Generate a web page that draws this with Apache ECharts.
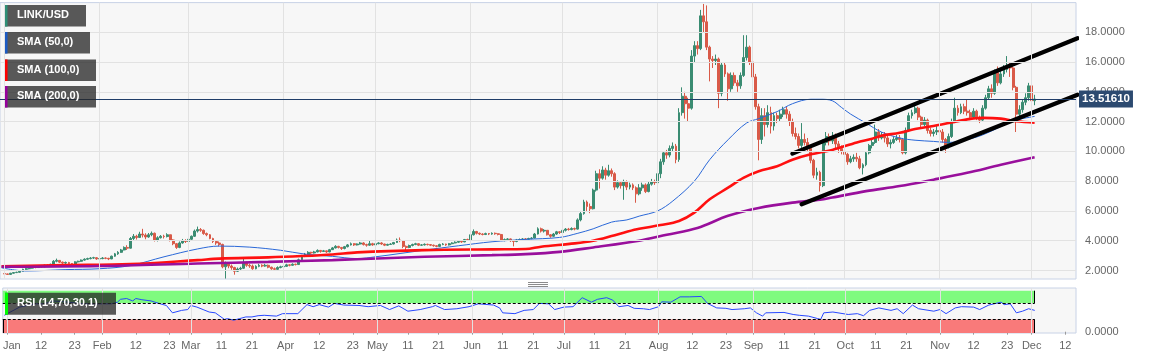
<!DOCTYPE html>
<html><head><meta charset="utf-8">
<script src="https://cdn.jsdelivr.net/npm/echarts@6/dist/echarts.min.js"></script>
<style>html,body{margin:0;padding:0;background:#fff}#c{width:1153px;height:359px}</style>
</head><body><div id="c"></div>
<script>
// ---------------- DATA ----------------
const START_DATE = '2019-12-31';   // first category (empty)
const END_DATE = '2020-12-15';     // last category (empty, axis padding)
const FIRST_DAY = '2020-01-01';
const FIRST_OPEN = 1.79;           // open of Jan 1; later opens = previous close
const closes = [
 // Jan
 1.77,1.74,1.82,1.86,1.88,1.95,2.08,2.12,2.16,2.24,2.20,2.27,2.25,2.36,2.33,2.42,2.62,2.68,2.56,2.50,2.54,2.47,2.42,2.58,2.62,2.70,2.76,2.80,2.84,2.86,2.78,
 // Feb
 2.80,2.84,2.82,2.78,2.96,3.12,3.22,3.38,3.55,3.50,4.15,4.30,4.22,4.45,4.38,4.25,4.40,4.50,4.05,4.20,4.30,4.28,4.40,4.05,3.80,3.55,3.85,4.00,3.95,
 // Mar
 4.10,4.30,4.65,4.75,4.70,4.48,4.40,4.15,3.95,3.85,3.75,2.25,2.45,2.30,2.20,1.95,2.10,2.15,2.50,2.35,2.30,2.12,2.28,2.35,2.30,2.35,2.22,2.12,2.08,2.20,2.25,
 // Apr
 2.28,2.38,2.35,2.42,2.40,2.72,2.95,3.10,3.22,3.18,3.25,3.35,3.28,3.32,3.25,3.40,3.52,3.62,3.55,3.48,3.60,3.72,3.80,3.72,3.78,3.85,3.74,3.70,3.80,3.72,
 // May
 3.80,3.85,3.78,3.70,3.75,3.78,3.88,4.05,4.00,3.62,3.55,3.68,3.75,3.80,3.70,3.72,3.76,3.74,3.70,3.66,3.62,3.75,3.78,3.72,3.80,3.85,3.90,3.96,3.92,4.08,4.05,
 // Jun
 4.40,4.62,4.50,4.45,4.42,4.48,4.45,4.50,4.47,4.42,4.02,4.08,4.12,4.00,3.95,4.05,4.08,4.12,4.10,4.15,4.18,4.45,4.80,4.65,4.70,4.40,4.30,4.45,4.60,4.55,
 // Jul
 4.70,4.78,4.75,4.82,4.78,5.40,5.82,6.60,6.30,6.15,7.40,8.50,8.20,8.75,8.40,8.70,8.50,7.60,7.90,7.70,7.95,7.60,7.75,7.55,7.15,7.55,7.75,7.30,7.80,7.95,7.90,
 // Aug
 8.50,9.30,9.90,9.75,10.20,10.35,9.45,12.60,13.70,13.20,12.90,16.40,17.10,16.90,19.10,18.70,17.00,16.20,16.10,16.20,13.90,15.80,15.20,14.20,15.10,14.60,14.40,15.10,16.30,17.00,16.00,
 // Sep
 15.00,13.00,10.80,12.40,11.80,12.60,11.70,12.40,12.20,12.50,12.80,12.50,12.00,11.20,11.00,10.40,10.80,10.60,10.20,9.40,8.40,8.60,7.70,10.60,11.00,10.70,11.00,10.50,10.20,10.00,
 // Oct
 9.80,9.30,9.50,9.60,9.50,8.90,9.10,9.90,10.40,10.60,11.30,10.90,11.10,10.90,10.50,10.60,10.80,10.90,10.80,9.90,11.40,12.40,12.60,12.90,12.30,11.80,12.10,11.40,11.20,11.30,11.40,
 // Nov
 11.30,10.80,10.40,11.00,12.00,12.90,12.60,13.00,12.70,12.60,12.30,12.70,12.30,12.10,12.90,13.60,14.20,13.90,15.30,14.60,15.20,15.50,15.80,15.60,14.30,12.50,12.80,13.30,13.60,14.40,
 // Dec
 13.40,13.5161
];
const highs = [
 1.81,1.79,1.84,1.89,1.92,1.98,2.12,2.18,2.21,2.30,2.28,2.31,2.32,2.40,2.42,2.46,2.70,2.80,2.70,2.60,2.60,2.58,2.50,2.62,2.66,2.74,2.82,2.86,2.90,2.92,2.90,
 2.86,2.90,2.88,2.85,3.00,3.18,3.30,3.45,3.62,3.70,4.25,4.45,4.40,4.60,4.80,4.50,4.52,4.62,4.55,4.30,4.38,4.40,4.50,4.42,4.10,3.85,3.95,4.12,4.10,
 4.15,4.35,4.75,4.95,4.85,4.75,4.55,4.45,4.20,4.02,3.95,3.80,2.60,2.50,2.40,2.25,2.20,2.25,2.90,2.60,2.45,2.40,2.35,2.45,2.42,2.45,2.40,2.26,2.20,2.28,2.32,
 2.35,2.45,2.42,2.48,2.46,2.80,3.05,3.18,3.30,3.26,3.32,3.42,3.38,3.38,3.34,3.45,3.58,3.70,3.66,3.58,3.65,3.78,3.88,3.84,3.82,3.92,3.90,3.80,3.98,3.86,
 3.86,3.90,3.90,3.80,3.80,3.84,3.92,4.15,4.22,4.02,3.68,3.74,3.80,3.86,3.82,3.78,3.82,3.80,3.78,3.74,3.70,3.80,3.84,3.80,3.85,3.90,3.96,4.02,4.00,4.12,4.14,
 4.45,4.76,4.66,4.55,4.50,4.54,4.52,4.56,4.55,4.50,4.46,4.15,4.18,4.15,4.05,4.12,4.15,4.18,4.18,4.20,4.24,4.52,4.90,4.88,4.78,4.72,4.45,4.52,4.66,4.65,
 4.78,4.85,4.86,4.90,4.88,5.50,6.00,6.75,6.70,6.50,7.50,8.70,8.80,9.00,8.90,9.10,8.85,8.60,8.05,8.00,8.10,8.05,7.90,7.85,7.65,7.80,7.90,7.85,7.95,8.15,8.10,
 8.80,9.50,10.00,10.10,10.40,10.60,10.50,12.90,14.30,14.00,13.60,16.80,17.40,17.40,19.50,19.90,19.80,17.10,16.40,16.50,16.30,16.00,16.00,15.30,15.30,15.30,14.80,15.30,17.80,17.80,17.10,
 16.30,15.20,13.20,12.90,12.90,13.10,13.00,12.60,12.60,12.80,13.00,13.00,12.70,12.20,11.60,11.20,11.90,11.20,10.90,10.40,9.50,8.90,8.70,10.80,11.30,11.20,11.30,11.20,10.70,10.40,
 10.30,9.90,9.70,9.80,9.90,9.70,9.20,10.00,10.50,10.80,11.80,11.50,11.30,11.30,11.10,10.80,11.00,11.10,11.10,10.90,11.60,12.60,12.80,13.20,13.00,12.40,12.30,12.20,11.60,11.50,11.70,
 11.60,11.50,10.90,11.20,12.20,13.60,13.10,13.20,13.20,13.50,12.80,12.90,12.80,12.40,13.10,13.80,14.40,14.50,15.50,15.70,15.40,15.80,16.40,16.00,15.70,14.40,13.10,13.50,13.90,14.60,
 15.00,13.80
];
const lows = [
 1.74,1.72,1.73,1.80,1.83,1.86,1.94,2.04,2.08,2.12,2.15,2.18,2.20,2.22,2.28,2.30,2.40,2.55,2.50,2.40,2.44,2.42,2.36,2.40,2.54,2.58,2.66,2.72,2.75,2.78,2.72,
 2.72,2.76,2.76,2.70,2.76,2.92,3.05,3.18,3.35,3.38,3.48,4.05,4.08,4.18,4.22,4.10,4.20,4.30,3.95,3.95,4.15,4.15,4.22,3.95,3.70,3.45,3.50,3.80,3.85,
 3.92,4.05,4.25,4.55,4.60,4.40,4.30,4.10,3.85,3.72,3.62,2.15,1.46,2.15,2.05,1.72,1.90,2.02,2.10,2.25,2.18,2.05,2.08,2.22,2.22,2.25,2.15,2.05,2.00,2.05,2.15,
 2.18,2.25,2.28,2.32,2.34,2.38,2.68,2.90,3.05,3.10,3.14,3.22,3.20,3.24,3.18,3.22,3.38,3.48,3.48,3.38,3.42,3.55,3.68,3.65,3.68,3.74,3.68,3.60,3.66,3.66,
 3.68,3.76,3.72,3.64,3.66,3.72,3.75,3.86,3.90,3.50,3.37,3.50,3.62,3.70,3.64,3.66,3.68,3.68,3.64,3.60,3.56,3.60,3.70,3.66,3.68,3.76,3.82,3.86,3.86,3.90,3.98,
 4.00,4.35,4.42,4.38,4.36,4.38,4.38,4.40,4.40,4.36,3.98,3.96,4.02,3.92,3.62,3.90,4.00,4.04,4.04,4.06,4.10,4.15,4.42,4.55,4.55,4.35,4.20,4.26,4.40,4.45,
 4.50,4.62,4.68,4.70,4.70,4.75,5.30,5.75,6.00,5.85,6.10,7.30,7.50,8.10,8.10,8.30,8.30,7.40,7.50,7.50,6.75,7.40,7.45,7.40,6.55,7.05,7.35,7.20,7.25,7.70,7.75,
 7.80,8.20,9.10,9.50,9.60,10.00,9.20,9.30,12.40,12.20,12.00,12.80,16.00,16.50,16.80,18.00,16.80,14.70,15.60,15.80,12.90,13.70,15.00,13.40,14.00,14.40,14.00,14.20,15.00,16.10,15.80,
 14.70,12.80,9.40,10.50,11.00,11.60,11.20,11.40,11.90,12.00,12.30,12.20,11.70,11.00,10.80,10.20,10.20,10.40,10.00,9.20,8.20,8.10,7.30,7.60,10.40,10.40,10.50,10.20,9.90,9.80,
 9.60,9.10,9.20,9.30,9.30,8.80,8.45,9.00,9.80,10.20,10.50,10.70,10.80,10.60,10.30,10.20,10.50,10.70,10.60,9.80,9.80,11.30,12.20,12.50,12.10,11.60,11.70,11.20,11.00,11.00,11.10,
 11.10,10.60,9.90,10.20,10.90,11.90,12.40,12.50,12.50,12.40,12.10,12.20,12.10,11.90,12.00,12.80,13.50,13.60,13.80,14.40,14.50,15.00,15.30,15.00,14.10,11.30,12.20,12.60,13.10,13.40,
 13.20,13.10
];
const sma50 = [['2019-12-31',2.18],['2020-01-08',1.97],['2020-01-21',2.06],['2020-02-01',2.12],['2020-02-11',2.33],['2020-02-22',2.92],['2020-03-04',3.45],['2020-03-11',3.64],['2020-03-21',3.57],['2020-03-31',3.36],['2020-04-08',3.10],['2020-04-17',2.95],['2020-04-25',2.80],['2020-05-01',2.92],['2020-05-17',3.37],['2020-05-28',3.66],['2020-06-08',3.93],['2020-06-19',4.09],['2020-06-30',4.22],['2020-07-06',4.50],['2020-07-11',4.80],['2020-07-17',5.25],['2020-07-22',5.40],['2020-07-26',5.65],['2020-08-01',6.00],['2020-08-06',6.67],['2020-08-13',8.00],['2020-08-18',9.44],['2020-08-24',10.78],['2020-08-30',11.90],['2020-09-03',12.20],['2020-09-09',12.67],['2020-09-14',13.20],['2020-09-20',13.50],['2020-09-23',13.50],['2020-09-27',13.40],['2020-09-30',12.95],['2020-10-03',12.50],['2020-10-08',11.90],['2020-10-13',11.30],['2020-10-19',10.90],['2020-10-24',10.75],['2020-10-30',10.67],['2020-11-04',10.60],['2020-11-10',10.80],['2020-11-15',11.10],['2020-11-21',11.67],['2020-11-25',12.05],['2020-12-02',12.35]];
const sma100 = [['2019-12-31',2.29],['2020-01-21',2.36],['2020-02-11',2.43],['2020-03-04',2.70],['2020-03-11',2.80],['2020-03-27',2.88],['2020-04-07',2.97],['2020-04-17',3.08],['2020-04-25',3.22],['2020-05-17',3.37],['2020-06-08',3.42],['2020-06-19',3.44],['2020-06-24',3.60],['2020-07-05',3.82],['2020-07-11',4.00],['2020-07-17',4.31],['2020-07-22',4.60],['2020-07-26',4.80],['2020-08-02',5.05],['2020-08-08',5.33],['2020-08-13',5.89],['2020-08-18',6.78],['2020-08-24',7.56],['2020-08-29',8.22],['2020-09-03',8.67],['2020-09-09',9.00],['2020-09-14',9.44],['2020-09-20',9.80],['2020-09-27',10.10],['2020-10-05',10.60],['2020-10-10',10.85],['2020-10-13',11.05],['2020-10-19',11.25],['2020-10-24',11.50],['2020-10-30',11.70],['2020-11-04',11.90],['2020-11-10',12.15],['2020-11-15',12.25],['2020-11-21',12.20],['2020-11-26',12.02],['2020-12-02',11.93]];
const sma200 = [['2019-12-31',2.25],['2020-02-01',2.30],['2020-03-04',2.47],['2020-03-27',2.58],['2020-04-17',2.70],['2020-04-25',2.76],['2020-05-17',2.92],['2020-06-08',3.03],['2020-06-19',3.10],['2020-06-30',3.25],['2020-07-11',3.55],['2020-07-26',4.00],['2020-08-04',4.40],['2020-08-14',4.85],['2020-08-24',5.67],['2020-09-03',6.20],['2020-09-14',6.56],['2020-09-23',6.75],['2020-09-27',6.90],['2020-10-08',7.33],['2020-10-19',7.67],['2020-10-30',8.10],['2020-11-10',8.56],['2020-11-21',9.10],['2020-12-02',9.60]];
const channelUpper = [['2020-09-14',9.85],['2020-12-16',17.6]];
const channelLower = [['2020-09-17',6.45],['2020-12-16',13.8]];
const priceNow = 13.5161;
const rsi = [['2019-12-31',40],['2020-01-01',44],['2020-01-05',60],['2020-01-10',68],['2020-01-13',68],['2020-01-16',75],['2020-01-21',72],['2020-01-26',68],['2020-02-01',68],['2020-02-04',68],['2020-02-06',72],['2020-02-07',79],['2020-02-09',81],['2020-02-11',75],['2020-02-12',81],['2020-02-14',78],['2020-02-17',75],['2020-02-20',68],['2020-02-22',64],['2020-02-24',46],['2020-02-27',52],['2020-02-29',54],['2020-03-01',64],['2020-03-03',60],['2020-03-05',54],['2020-03-07',48],['2020-03-09',46],['2020-03-12',30],['2020-03-13',32],['2020-03-15',28],['2020-03-17',32],['2020-03-19',36],['2020-03-21',36],['2020-03-23',39],['2020-03-25',40],['2020-03-29',38],['2020-03-31',44],['2020-04-05',44],['2020-04-08',66],['2020-04-10',61],['2020-04-12',66],['2020-04-15',60],['2020-04-17',69],['2020-04-20',65],['2020-04-25',64],['2020-04-28',61],['2020-05-02',64],['2020-05-05',54],['2020-05-08',63],['2020-05-11',50],['2020-05-15',54],['2020-05-19',61],['2020-05-20',64],['2020-05-23',54],['2020-05-27',56],['2020-05-31',61],['2020-06-03',68],['2020-06-08',65],['2020-06-10',58],['2020-06-11',46],['2020-06-15',44],['2020-06-18',52],['2020-06-21',54],['2020-06-23',69],['2020-06-26',68],['2020-06-28',54],['2020-07-01',60],['2020-07-04',61],['2020-07-07',83],['2020-07-10',72],['2020-07-12',79],['2020-07-15',83],['2020-07-17',77],['2020-07-19',61],['2020-07-22',64],['2020-07-24',57],['2020-07-27',56],['2020-07-29',54],['2020-08-01',61],['2020-08-02',73],['2020-08-05',72],['2020-08-08',85],['2020-08-11',85],['2020-08-15',86],['2020-08-17',69],['2020-08-20',58],['2020-08-23',57],['2020-08-25',54],['2020-08-29',56],['2020-08-31',58],['2020-09-02',46],['2020-09-04',38],['2020-09-05',46],['2020-09-11',47],['2020-09-14',42],['2020-09-16',40],['2020-09-19',38],['2020-09-22',32],['2020-09-23',30],['2020-09-24',46],['2020-09-27',48],['2020-10-02',42],['2020-10-05',44],['2020-10-07',39],['2020-10-09',52],['2020-10-12',58],['2020-10-16',52],['2020-10-18',56],['2020-10-20',44],['2020-10-23',65],['2020-10-25',56],['2020-10-30',50],['2020-11-01',54],['2020-11-03',44],['2020-11-06',58],['2020-11-08',61],['2020-11-12',60],['2020-11-14',54],['2020-11-17',65],['2020-11-21',72],['2020-11-22',66],['2020-11-24',68],['2020-11-26',46],['2020-11-28',50],['2020-11-30',56],['2020-12-02',52]];
const rsiUpper = 70, rsiLower = 30, rsiTop = 100;
const yTicks = [2,4,6,8,10,12,14,16,18];
const xTickDates = ['2020-01-01','2020-01-12','2020-01-23','2020-02-01','2020-02-12','2020-02-23','2020-03-01','2020-03-11','2020-03-21','2020-04-01','2020-04-12','2020-04-23','2020-05-01','2020-05-11','2020-05-21','2020-06-01','2020-06-11','2020-06-21','2020-07-01','2020-07-11','2020-07-21','2020-08-01','2020-08-12','2020-08-23','2020-09-01','2020-09-11','2020-09-21','2020-10-01','2020-10-11','2020-10-21','2020-11-01','2020-11-12','2020-11-23','2020-12-01','2020-12-12'];
const monthStarts = ['2020-01-01','2020-02-01','2020-03-01','2020-04-01','2020-05-01','2020-06-01','2020-07-01','2020-08-01','2020-09-01','2020-10-01','2020-11-01','2020-12-01'];
const MONTHS = ['Jan','Feb','Mar','Apr','May','Jun','Jul','Aug','Sep','Oct','Nov','Dec'];
const legendLabels = ['LINK/USD','SMA (50,0)','SMA (100,0)','SMA (200,0)'];
const rsiLabel = 'RSI (14,70,30,1)';

// ---------------- BUILD ----------------
const DAY = 864e5;
const t0 = Date.parse(START_DATE + 'T00:00:00Z');
const idx = d => Math.round((Date.parse(d + 'T00:00:00Z') - t0) / DAY);
const N = idx(END_DATE) + 1;
const fmtDate = t => new Date(t).toISOString().slice(0, 10);
const cats = [];
for (let i = 0; i < N; i++) cats.push(fmtDate(t0 + i * DAY));
const firstIdx = idx(FIRST_DAY);
const candles = cats.map(() => '-');
closes.forEach((c, k) => {
  const o = k === 0 ? FIRST_OPEN : closes[k - 1];
  candles[firstIdx + k] = [o, c, lows[k], highs[k]];
});
const lastIdx = firstIdx + closes.length - 1;
const toPts = arr => arr.map(([d, v]) => [idx(d), v]);
const tickSet = new Set(xTickDates.map(idx));
const FONT = 'Arial, "Liberation Sans", Helvetica, sans-serif';
const RSI_MIN = -3.2, RSI_MAX = 106.6;
const Y_MIN = 1.43, Y_MAX = 19.99;

const chart = echarts.init(document.getElementById('c'));
const lineS = (name, pts, color, width, z) => ({
  name, type: 'line', xAxisIndex: 1, yAxisIndex: 0, data: toPts(pts), showSymbol: false, symbol: 'none',
  smooth: 0.35, lineStyle: { color, width }, z, silent: true
});
const gridLineColor = '#e2e2e2';
const vLines = monthStarts.map(d => ({ xAxis: idx(d) }));
const hLines = yTicks.map(v => ({ yAxis: v }));

const legendColors = ['#2f8f76', '#1c5bc4', '#ff0000', '#96009c'];
const legendTops = [5, 32, 59.5, 86];
const legendWidths = [81, 85, 91, 91];
const graphic = [];
legendLabels.forEach((lab, i) => {
  graphic.push({ type: 'rect', left: 5, top: legendTops[i], shape: { width: legendWidths[i], height: 21.5 }, style: { fill: 'rgba(38,38,38,0.76)' }, z: 100 });
  graphic.push({ type: 'rect', left: 5, top: legendTops[i], shape: { width: 2.5, height: 21.5 }, style: { fill: legendColors[i] }, z: 101 });
  graphic.push({ type: 'text', left: 17, top: legendTops[i] + 4.5, style: { text: lab, fill: '#ffffff', font: 'bold 11px ' + FONT }, z: 102 });
});
graphic.push({ type: 'rect', left: 5, top: 292.7, shape: { width: 111, height: 22 }, style: { fill: 'rgba(38,38,38,0.76)' }, z: 100 });
graphic.push({ type: 'rect', left: 5, top: 292.7, shape: { width: 3, height: 22 }, style: { fill: '#00ff00' }, z: 101 });
graphic.push({ type: 'text', left: 17, top: 297.5, style: { text: rsiLabel, fill: '#ffffff', font: 'bold 11px ' + FONT }, z: 102 });
[282.5, 284.5, 286.5].forEach(y => graphic.push({ type: 'line', shape: { x1: 528, y1: y, x2: 548, y2: y }, style: { stroke: '#8c8c8c', lineWidth: 1 }, z: 50 }));

const option = {
  animation: false,
  backgroundColor: '#ffffff',
  textStyle: { fontFamily: FONT },
  grid: [
    { left: 0, right: 77, top: 2.6, height: 276.4, show: true, backgroundColor: '#f7f7f7', borderColor: '#c8d2e6', borderWidth: 1 },
    { left: 0, right: 77, top: 288, height: 45, show: true, backgroundColor: '#f7f7f7', borderColor: '#c8d2e6', borderWidth: 1 }
  ],
  xAxis: [
    { type: 'category', gridIndex: 0, data: cats, boundaryGap: true, axisLine: { show: false }, axisTick: { show: false }, axisLabel: { show: false }, splitLine: { show: false } },
    { type: 'value', gridIndex: 0, min: -0.5, max: N - 0.5, show: false },
    { type: 'category', gridIndex: 1, data: cats, boundaryGap: true, axisLine: { show: false },
      axisTick: { show: true, alignWithLabel: true, interval: i => tickSet.has(i), length: 3, lineStyle: { color: '#9a9a9a' } },
      axisLabel: { interval: i => tickSet.has(i), color: '#666', fontSize: 11, margin: 7, fontFamily: FONT,
        formatter: v => { const m = +v.slice(5, 7), d = +v.slice(8, 10); const s = d === 1 ? MONTHS[m - 1] : String(d); return (m === 1 && d === 1) ? '{a|' + s + '}' : s; },
        rich: { a: { padding: [0, 0, 0, 9], color: '#666', fontSize: 11, fontFamily: FONT } } },
      splitLine: { show: false } },
    { type: 'value', gridIndex: 1, min: -0.5, max: N - 0.5, show: false }
  ],
  yAxis: [
    { type: 'value', gridIndex: 0, position: 'right', min: Y_MIN, max: Y_MAX, splitNumber: 9, scale: true,
      axisLine: { show: false },
      axisTick: { show: true, length: 5, customValues: yTicks, lineStyle: { color: '#9a9a9a' } },
      axisLabel: { customValues: yTicks, formatter: v => (v > Y_MIN + 0.1 && v < Y_MAX - 0.1 ? v.toFixed(4) : ''), color: '#666', fontSize: 11, margin: 9, fontFamily: FONT },
      splitLine: { show: false } },
    { type: 'value', gridIndex: 1, position: 'right', min: RSI_MIN, max: RSI_MAX, scale: true,
      axisLine: { show: false },
      axisTick: { show: true, length: 5, customValues: [0], lineStyle: { color: '#9a9a9a' } },
      axisLabel: { customValues: [0], formatter: v => (Math.abs(v) < 1e-9 ? '0.0000' : ''), color: '#666', fontSize: 11, margin: 9, fontFamily: FONT },
      splitLine: { show: false } }
  ],
  graphic,
  series: [
    { name: 'grid', type: 'line', xAxisIndex: 1, yAxisIndex: 0, data: [[0, Y_MIN]], symbol: 'none', showSymbol: false, lineStyle: { opacity: 0 }, z: 1, silent: true,
      markLine: { silent: true, symbol: ['none', 'none'], animation: false, label: { show: false }, lineStyle: { color: gridLineColor, width: 1, type: 'solid' }, data: vLines.concat(hLines) } },
    { name: 'LINK/USD', type: 'candlestick', xAxisIndex: 0, yAxisIndex: 0, data: candles, barWidth: '78%', z: 2, silent: true,
      itemStyle: { color: '#3a8c72', color0: '#d95a48', borderColor: '#3a8c72', borderColor0: '#d95a48', borderWidth: 1 } },
    lineS('SMA (50,0)', sma50, '#2a68d8', 1, 3),
    lineS('SMA (100,0)', sma100, '#ff1010', 2.6, 3),
    lineS('SMA (200,0)', sma200, '#990f9c', 2.6, 3),
    { name: 'chanU', type: 'line', xAxisIndex: 1, yAxisIndex: 0, data: toPts(channelUpper), symbol: 'none', lineStyle: { color: '#000', width: 4.2, cap: 'round' }, z: 4, silent: true },
    { name: 'chanL', type: 'line', xAxisIndex: 1, yAxisIndex: 0, data: toPts(channelLower), symbol: 'none', lineStyle: { color: '#000', width: 4.2, cap: 'round' }, z: 4, silent: true },
    { name: 'price', type: 'line', xAxisIndex: 1, yAxisIndex: 0, data: [[0, priceNow]], symbol: 'none', showSymbol: false, lineStyle: { opacity: 0 }, z: 5, silent: true,
      markLine: { silent: true, symbol: ['none', 'none'], animation: false, lineStyle: { color: '#1f3d68', width: 1, type: 'solid' },
        label: { show: true, position: 'end', distance: 3, formatter: priceNow.toFixed(5), color: '#fff', fontWeight: 'bold', fontSize: 11.5, fontFamily: FONT, backgroundColor: '#2c4a70', padding: [3, 3, 2, 3] },
        data: [{ yAxis: priceNow }] } },
    // RSI pane
    { name: 'vgridR', type: 'line', xAxisIndex: 3, yAxisIndex: 1, data: [[0, 50]], symbol: 'none', showSymbol: false, lineStyle: { opacity: 0 }, z: 1, silent: true,
      markLine: { silent: true, symbol: ['none', 'none'], animation: false, label: { show: false }, lineStyle: { color: gridLineColor, width: 1, type: 'solid' }, data: vLines } },
    { name: 'zones', type: 'line', xAxisIndex: 3, yAxisIndex: 1, data: [[0, 50]], symbol: 'none', showSymbol: false, lineStyle: { opacity: 0 }, z: 2, silent: true,
      markArea: { silent: true, animation: false, label: { show: false },
        data: [
          [{ xAxis: -0.5, yAxis: rsiUpper, itemStyle: { color: '#7ffb7f' } }, { xAxis: lastIdx, yAxis: rsiTop }],
          [{ xAxis: -0.5, yAxis: RSI_MIN, itemStyle: { color: '#f97a7a' } }, { xAxis: lastIdx, yAxis: rsiLower }]
        ] },
      markLine: { silent: true, symbol: ['none', 'none'], animation: false, label: { show: false },
        data: [
          [{ coord: [-0.5, rsiUpper], lineStyle: { color: '#000', width: 1, type: [3, 2] } }, { coord: [lastIdx, rsiUpper] }],
          [{ coord: [-0.5, rsiLower], lineStyle: { color: '#000', width: 1, type: [3, 2] } }, { coord: [lastIdx, rsiLower] }],
          [{ coord: [lastIdx, rsiUpper], lineStyle: { color: '#000', width: 1, type: 'solid' } }, { coord: [lastIdx, rsiTop] }],
          [{ coord: [lastIdx, RSI_MIN], lineStyle: { color: '#000', width: 1, type: 'solid' } }, { coord: [lastIdx, rsiLower] }],
          [{ coord: [-0.5, RSI_MIN], lineStyle: { color: '#000', width: 1, type: 'solid' } }, { coord: [-0.5, rsiLower] }]
        ] } },
    { name: 'RSI', type: 'line', xAxisIndex: 3, yAxisIndex: 1, data: toPts(rsi), symbol: 'none', showSymbol: false, lineStyle: { color: '#2747ff', width: 1 }, z: 3, silent: true }
  ]
};
chart.setOption(option);
</script>
</body></html>
